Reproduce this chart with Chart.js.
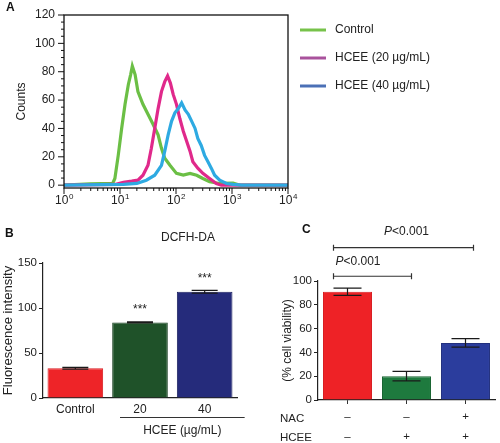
<!DOCTYPE html>
<html>
<head>
<meta charset="utf-8">
<script src="https://cdn.jsdelivr.net/npm/chart.js@4"></script>
<style>
  body { margin: 0; background: #fff; width: 500px; height: 443px; position: relative; overflow: hidden; }
  .panel { position: absolute; }
</style>
</head>
<body>
<div class="panel" style="left:0;top:0;width:500px;height:245px"><canvas id="histChart" width="500" height="245"></canvas></div>
<div class="panel" style="left:0;top:225px;width:250px;height:218px"><canvas id="fluoChart" width="250" height="218"></canvas></div>
<div class="panel" style="left:250px;top:215px;width:250px;height:228px"><canvas id="viabChart" width="250" height="228"></canvas></div>

<script>
// ================= Data =================
// Panel A - flow cytometry histograms (fluorescence, counts)
const histNames = ["Control", "HCEE (20 \u00b5g/mL)", "HCEE (40 \u00b5g/mL)"];
const controlX = [1, 2.9, 7.4, 8.1, 9.3, 10.7, 12.3, 14.1, 15.5, 16.6, 18.6, 20.9, 25.7, 31.6, 38.9, 47.9, 55, 63, 78, 102, 135, 178, 234, 302, 398, 603, 1047, 1400, 10000];
const controlCounts = [0, 1, 1.2, 4.7, 21, 40, 57, 71, 78, 84, 78, 66, 57, 50, 43, 35.5, 26, 19, 14, 8.3, 7.1, 8.3, 7, 4.7, 2.4, 1.2, 1.5, 0, 0];
const hcee20X = [1, 8.1, 11.5, 16.2, 20.9, 25.7, 31.6, 36.3, 41.7, 47.9, 55, 63, 70.8, 79.4, 89.1, 102, 117, 135, 155, 178, 200, 245, 302, 398, 525, 646, 10000];
const hcee20Counts = [0, 0.5, 2, 2.8, 3.5, 7, 14, 26, 40, 54, 66, 73, 77, 72, 64, 57, 47, 38, 31, 24, 16.5, 12, 8.3, 4.7, 1.2, 0, 0];
const hcee40X = [1, 11.5, 20, 29.5, 41.7, 55, 63, 72.4, 83.2, 95.5, 110, 126, 145, 166, 191, 219, 245, 282, 324, 372, 427, 490, 603, 794, 1047, 1500, 10000];
const hcee40Counts = [0, 0.5, 1.2, 3.5, 7, 14, 24, 35.5, 45, 51, 54, 58, 53, 50, 45, 40, 33, 28, 21, 16.5, 12, 7, 3.5, 1.2, 0.5, 0, 0];

// Panel B - fluorescence intensity
const fluoLabels = ["Control", "20", "40"];
const fluoValues = [33, 84, 118];
const fluoErrors = [1, 0.5, 1.5];
const fluoStars = ["", "***", "***"];

// Panel C - cell viability
const viabLabels = ["Control", "HCEE", "HCEE + NAC"];
const viabValues = [91, 20, 48];
const viabErrors = [3, 4, 3.5];
const nacRow = ["\u2013", "\u2013", "+"];
const hceeRow = ["\u2013", "+", "+"];

// ================= Defaults =================
Chart.defaults.font.family = "'Liberation Sans', Arial, sans-serif";
Chart.defaults.font.size = 12;
Chart.defaults.color = "#222";
Chart.defaults.animation = false;
Chart.defaults.devicePixelRatio = 1;
Chart.defaults.plugins.legend.display = false;
Chart.defaults.plugins.tooltip.enabled = false;

const FONT = "'Liberation Sans', Arial, sans-serif";

function toPoints(xs, ys) {
    return xs.map((x, i) => ({ x: x, y: ys[i] }));
}

function drawErrorBars(chart, errs, capHalf) {
    const ctx = chart.ctx;
    const y = chart.scales.y;
    const vals = chart.data.datasets[0].data;
    ctx.save();
    ctx.strokeStyle = "#1a1a1a";
    ctx.lineWidth = 1.2;
    chart.getDatasetMeta(0).data.forEach((bar, i) => {
        const top = y.getPixelForValue(vals[i] + errs[i]);
        const bot = y.getPixelForValue(vals[i] - errs[i]);
        ctx.beginPath();
        ctx.moveTo(bar.x, top); ctx.lineTo(bar.x, bot);
        ctx.moveTo(bar.x - capHalf, top); ctx.lineTo(bar.x + capHalf, top);
        ctx.moveTo(bar.x - capHalf, bot); ctx.lineTo(bar.x + capHalf, bot);
        ctx.stroke();
    });
    ctx.restore();
}

function vText(ctx, text, x, y, size) {
    ctx.save();
    ctx.translate(x, y);
    ctx.rotate(-Math.PI / 2);
    ctx.font = size + "px " + FONT;
    ctx.textAlign = "center";
    ctx.textBaseline = "middle";
    ctx.fillText(text, 0, 0);
    ctx.restore();
}

function panelLetter(ctx, letter, x, y) {
    ctx.save();
    ctx.font = "bold 12px " + FONT;
    ctx.fillStyle = "#111";
    ctx.textBaseline = "middle";
    ctx.fillText(letter, x, y);
    ctx.restore();
}

// ================= Panel A =================
const histLegendColors = ["#77c24a", "#a9529c", "#4b70b6"];

const histDecor = {
    id: "histDecor",
    afterDraw(chart) {
        const { ctx, chartArea: a, scales: { x, y } } = chart;
        ctx.save();
        ctx.strokeStyle = "#111";
        ctx.fillStyle = "#222";
        ctx.lineWidth = 1.3;
        ctx.strokeRect(a.left, a.top, a.right - a.left, a.bottom - a.top);

        // x ticks (log decades + minor)
        ctx.lineWidth = 1;
        ctx.beginPath();
        for (let k = 0; k <= 4; k++) {
            for (let m = 1; m <= 9; m++) {
                const v = m * Math.pow(10, k);
                if (v > 10000) break;
                const px = x.getPixelForValue(v);
                ctx.moveTo(px, a.bottom);
                ctx.lineTo(px, a.bottom + (m === 1 ? 6 : 3));
            }
        }
        // y ticks
        for (let v = 0; v <= 120; v += 5) {
            const py = y.getPixelForValue(v);
            ctx.moveTo(a.left, py);
            ctx.lineTo(a.left - (v % 20 === 0 ? 6 : 3), py);
        }
        ctx.stroke();

        // x labels 10^k
        ctx.textBaseline = "middle";
        for (let k = 0; k <= 4; k++) {
            const px = x.getPixelForValue(Math.pow(10, k));
            ctx.font = "12px " + FONT;
            const w1 = ctx.measureText("10").width;
            ctx.font = "8px " + FONT;
            const w2 = ctx.measureText(String(k)).width;
            const sx = px - (w1 + w2) / 2;
            ctx.font = "12px " + FONT;
            ctx.textAlign = "left";
            ctx.fillText("10", sx, a.bottom + 13);
            ctx.font = "8px " + FONT;
            ctx.fillText(String(k), sx + w1 + 0.5, a.bottom + 9);
        }
        // y labels
        ctx.font = "12px " + FONT;
        ctx.textAlign = "right";
        for (let v = 0; v <= 120; v += 20) {
            ctx.fillText(String(v), a.left - 9, y.getPixelForValue(v));
        }
        vText(ctx, "Counts", 22, (a.top + a.bottom) / 2, 12);

        ctx.textAlign = "center";
        ctx.fillText("DCFH-DA", 188, 238);

        // legend
        histNames.forEach((name, i) => {
            const ly = 30 + i * 28;
            ctx.strokeStyle = histLegendColors[i];
            ctx.lineWidth = 3;
            ctx.beginPath();
            ctx.moveTo(300, ly); ctx.lineTo(326, ly);
            ctx.stroke();
            ctx.textAlign = "left";
            ctx.fillStyle = "#222";
            ctx.fillText(name, 335, ly);
        });
        ctx.restore();
        panelLetter(ctx, "A", 6, 8);
    }
};

new Chart(document.getElementById("histChart"), {
    type: "line",
    data: {
        datasets: [
            { label: histNames[0], data: toPoints(controlX, controlCounts), borderColor: "#6bbf45", order: 2 },
            { label: histNames[1], data: toPoints(hcee20X, hcee20Counts), borderColor: "#e0298b", order: 1 },
            { label: histNames[2], data: toPoints(hcee40X, hcee40Counts), borderColor: "#2eaae2", order: 0 }
        ]
    },
    options: {
        responsive: false,
        layout: { padding: { left: 0, top: 15, right: 212, bottom: 0 } },
        elements: { point: { radius: 0 }, line: { borderWidth: 3.2, tension: 0 } },
        scales: {
            x: {
                type: "logarithmic", min: 1, max: 10000,
                grid: { display: false }, border: { display: false }, ticks: { display: false },
                afterFit: s => { s.height = 57; }
            },
            y: {
                type: "linear", min: -2, max: 120,
                grid: { display: false }, border: { display: false }, ticks: { display: false },
                afterFit: s => { s.width = 64; }
            }
        }
    },
    plugins: [histDecor]
});

// ================= Panel B =================
const fluoDecor = {
    id: "fluoDecor",
    afterDatasetsDraw(chart) {
        drawErrorBars(chart, fluoErrors, 13);
        const { ctx, chartArea: a, scales: { x, y } } = chart;
        ctx.save();
        ctx.fillStyle = "#222";
        ctx.font = "12px " + FONT;
        ctx.textAlign = "center";
        ctx.textBaseline = "middle";
        chart.getDatasetMeta(0).data.forEach((bar, i) => {
            if (fluoStars[i]) {
                const top = y.getPixelForValue(fluoValues[i] + fluoErrors[i]);
                ctx.fillText(fluoStars[i], bar.x, top - 12);
            }
        });
        // group line under the HCEE doses
        ctx.strokeStyle = "#333";
        ctx.lineWidth = 1;
        const x1 = x.getPixelForValue(1) - 20;
        const x2 = x.getPixelForValue(2) + 40;
        ctx.beginPath();
        ctx.moveTo(x1, a.bottom + 19.5); ctx.lineTo(x2, a.bottom + 19.5);
        ctx.stroke();
        ctx.fillText("HCEE (\u00b5g/mL)", (x1 + x2) / 2, a.bottom + 33);
        vText(ctx, "Fluorescence intensity", 8, (a.top + a.bottom) / 2, 13);
        ctx.restore();
        panelLetter(ctx, "B", 5, 9);
    }
};

new Chart(document.getElementById("fluoChart"), {
    type: "bar",
    data: {
        labels: fluoLabels,
        datasets: [{
            data: fluoValues,
            backgroundColor: ["#ee2428", "#1f5229", "#252b7b"],
            borderColor: ["#d81d22", "#173f1f", "#1b2060"],
            borderWidth: 1,
            barPercentage: 0.86,
            categoryPercentage: 1
        }]
    },
    options: {
        responsive: false,
        layout: { padding: { left: 0, top: 38, right: 13, bottom: 0 } },
        scales: {
            x: {
                grid: { display: false, drawTicks: false },
                border: { color: "#222", width: 1.2 },
                ticks: { padding: 4, font: { size: 12 } },
                afterFit: s => { s.height = 45; }
            },
            y: {
                min: 0, max: 150,
                grid: { drawOnChartArea: false, tickLength: 4, color: "#222" },
                border: { color: "#222", width: 1.2 },
                ticks: { stepSize: 50, padding: 2, font: { size: 11.5 } },
                afterFit: s => { s.width = 43; }
            }
        }
    },
    plugins: [fluoDecor]
});

// ================= Panel C =================
function pText(ctx, x, y, align) {
    ctx.font = "italic 12px " + FONT;
    const wp = ctx.measureText("P").width;
    ctx.font = "12px " + FONT;
    const wr = ctx.measureText("<0.001").width;
    const sx = align === "center" ? x - (wp + wr) / 2 : x;
    ctx.textAlign = "left";
    ctx.font = "italic 12px " + FONT;
    ctx.fillText("P", sx, y);
    ctx.font = "12px " + FONT;
    ctx.fillText("<0.001", sx + wp, y);
}

const viabDecor = {
    id: "viabDecor",
    afterDatasetsDraw(chart) {
        drawErrorBars(chart, viabErrors, 14);
        const { ctx, chartArea: a, scales: { x, y } } = chart;
        ctx.save();
        ctx.fillStyle = "#222";
        ctx.strokeStyle = "#333";
        ctx.lineWidth = 1.2;
        ctx.textBaseline = "middle";

        // significance brackets
        const brackets = [[0, 1, 104], [0, 2, 128]];
        brackets.forEach(([i, j, level], n) => {
            const bx1 = x.getPixelForValue(i) - 14;
            const bx2 = x.getPixelForValue(j) + (n === 0 ? 5 : 8);
            const by = y.getPixelForValue(level);
            ctx.beginPath();
            ctx.moveTo(bx1, by); ctx.lineTo(bx2, by);
            ctx.moveTo(bx1, by - 3); ctx.lineTo(bx1, by + 3);
            ctx.moveTo(bx2, by - 3); ctx.lineTo(bx2, by + 3);
            ctx.stroke();
            if (n === 0) pText(ctx, bx1 + 2, by - 15, "left");
            else pText(ctx, (bx1 + bx2) / 2 + 3, by - 16, "center");
        });

        // treatment rows
        ctx.font = "11.5px " + FONT;
        ctx.textAlign = "left";
        ctx.fillText("NAC", 30, a.bottom + 19);
        ctx.fillText("HCEE", 30, a.bottom + 38);
        ctx.textAlign = "center";
        nacRow.forEach((s, i) => ctx.fillText(s, x.getPixelForValue(i), a.bottom + 17));
        hceeRow.forEach((s, i) => ctx.fillText(s, x.getPixelForValue(i), a.bottom + 37));

        vText(ctx, "(% cell viability)", 38, (a.top + a.bottom) / 2, 12);
        ctx.restore();
        panelLetter(ctx, "C", 52, 15);
    }
};

new Chart(document.getElementById("viabChart"), {
    type: "bar",
    data: {
        labels: viabLabels,
        datasets: [{
            data: viabValues,
            backgroundColor: ["#ee2226", "#1e7a3e", "#2b3d9d"],
            borderColor: ["#d81c20", "#176330", "#22307e"],
            borderWidth: 1,
            barPercentage: 0.83,
            categoryPercentage: 1
        }]
    },
    options: {
        responsive: false,
        layout: { padding: { left: 30, top: 66, right: 5, bottom: 0 } },
        scales: {
            x: {
                grid: { drawOnChartArea: false, offset: false, tickLength: 4, color: "#333" },
                border: { color: "#222", width: 1.2 },
                ticks: { display: false },
                afterFit: s => { s.height = 43; }
            },
            y: {
                min: 0, max: 100,
                grid: { drawOnChartArea: false, tickLength: 4, color: "#222" },
                border: { color: "#222", width: 1.2 },
                ticks: { stepSize: 20, padding: 2, font: { size: 11.5 } },
                afterFit: s => { s.width = 38; }
            }
        }
    },
    plugins: [viabDecor]
});
</script>
</body>
</html>
